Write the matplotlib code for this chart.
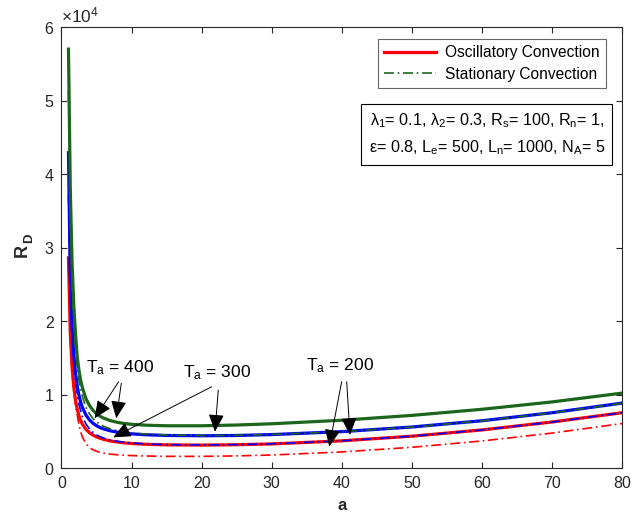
import matplotlib
matplotlib.use("Agg")
import matplotlib.pyplot as plt
from matplotlib.ticker import ScalarFormatter, MultipleLocator

plt.rcParams['font.family'] = 'Liberation Sans'
plt.rcParams['mathtext.fontset'] = 'custom'
plt.rcParams['mathtext.rm'] = 'Liberation Sans'
plt.rcParams['mathtext.it'] = 'Liberation Sans:italic'
plt.rcParams['mathtext.bf'] = 'Liberation Sans:bold'
plt.rcParams['mathtext.default'] = 'regular'

# wave number a
a = [1, 1.25, 1.5, 1.75, 2, 2.25, 2.5, 2.75, 3, 3.5, 4, 4.5, 5, 5.5, 6, 7, 8, 9, 10,
     12, 15, 20, 25, 30, 40, 50, 60, 70, 80]

# Ta = 200
osc_200 = [28600, 18500, 13900, 11050, 9250, 8000, 7100, 6450, 5950, 5250, 4800, 4480, 4230,
           4050, 3900, 3680, 3530, 3420, 3340, 3230, 3150, 3120, 3170, 3280, 3700, 4330,
           5180, 6260, 7520]
sta_200 = [28000, 18000, 13400, 10500, 8600, 7200, 5900, 4900, 4200, 3300, 2800, 2480, 2280,
           2140, 2030, 1890, 1800, 1740, 1695, 1635, 1590, 1585, 1650, 1770, 2190, 2820,
           3680, 4750, 6050]
# Ta = 300
osc_300 = [42900, 26130, 19510, 15520, 12930, 11150, 9880, 8930, 8210, 7200, 6540, 6090, 5760,
           5510, 5320, 5050, 4870, 4750, 4650, 4530, 4430, 4390, 4430, 4550, 4950, 5580,
           6430, 7520, 8830]
sta_300 = [37300, 25000, 18370, 14340, 11740, 9950, 8660, 7710, 6990, 5970, 5300, 4850, 4520,
           4270, 4080, 3810, 3630, 3500, 3410, 3280, 3180, 3140, 3180, 3290, 3700, 4330,
           5180, 6250, 7520]
# Ta = 400
osc_400 = [57000, 38440, 28360, 22280, 18330, 15100, 13280, 11900, 10880, 9430, 8500, 7850,
           7390, 7050, 6800, 6440, 6210, 6050, 5950, 5830, 5750, 5750, 5850, 6020, 6500,
           7160, 7990, 8990, 10190]
sta_400 = [51300, 34500, 25300, 19800, 16200, 13700, 11960, 10660, 9660, 8270, 7360, 6730,
           6280, 5940, 5680, 5320, 5080, 4910, 4780, 4620, 4490, 4420, 4450, 4570, 4950,
           5570, 6420, 7500, 8800]

red = (1, 0, 0)
blue = (0, 0, 1)
green = (0.11, 0.40, 0.11)
dark = (0.15, 0.15, 0.15)
dd = (6, 2.2, 1, 2.2)

fig = plt.figure(figsize=(6.41, 5.22), dpi=100)
ax = fig.add_axes([0.0959, 0.1034, 0.8744, 0.8448])

l_osc, = ax.plot(a, osc_200, color=red, lw=2.3, label='Oscillatory Convection')
ax.plot(a, sta_200, color=red, lw=1.2, dashes=dd)
ax.plot(a, osc_300, color=blue, lw=2.3)
ax.plot(a, sta_300, color=blue, lw=1.2, dashes=dd)
ax.plot(a, osc_400, color=green, lw=2.3)
l_sta, = ax.plot(a, sta_400, color=green, lw=1.2, dashes=dd, label='Stationary Convection')

ax.set_xlim(0, 80)
ax.set_ylim(0, 60000)
ax.xaxis.set_major_locator(MultipleLocator(10))
ax.yaxis.set_major_locator(MultipleLocator(10000))
fmt = ScalarFormatter(useMathText=True)
fmt.set_powerlimits((0, 0))
ax.yaxis.set_major_formatter(fmt)
ax.yaxis.get_offset_text().set_fontsize(12.5)
ax.yaxis.get_offset_text().set_color(dark)

ax.tick_params(direction='in', length=4, width=0.8, top=True, right=True,
               labelsize=11.5, colors=dark)
ax.tick_params(axis='x', pad=6)
ax.tick_params(axis='y', pad=5)
for s in ax.spines.values():
    s.set_color(dark)
    s.set_linewidth(0.8)

ax.set_xlabel('a', fontsize=12, fontweight='bold', color=dark)
ax.xaxis.set_label_coords(0.5, -0.068)
# y label R_D, bold with subscript
ax.text(-0.0705, 0.494, 'R', transform=ax.transAxes, rotation=90, ha='center', va='center',
        fontsize=13, fontweight='bold', color=dark)
ax.text(-0.0585, 0.522, 'D', transform=ax.transAxes, rotation=90, ha='center', va='center',
        fontsize=9.5, fontweight='bold', color=dark)

leg = ax.legend(handles=[l_osc, l_sta], loc='upper right', bbox_to_anchor=(0.9715, 0.9728),
                borderaxespad=0, fontsize=11.2, handlelength=3.3, handletextpad=0.6,
                labelspacing=0.42, borderpad=0.4, fancybox=False, framealpha=1)
leg.get_frame().set_edgecolor((0.4, 0.4, 0.4))
leg.get_frame().set_linewidth(0.8)

params = ('λ$_1$= 0.1, λ$_2$= 0.3, R$_s$= 100, R$_n$= 1,\n'
          'ε= 0.8, L$_e$= 500, L$_n$= 1000, N$_A$= 5')
ax.text(0.759, 0.757, params, transform=ax.transAxes, ha='center', va='center',
        fontsize=11.6, linespacing=1.65, color='k',
        bbox=dict(boxstyle='square,pad=0.45', facecolor='white', edgecolor='k', linewidth=0.8))

# Ta labels and arrows
labels = ['T$_a$ = 400', 'T$_a$ = 300', 'T$_a$ = 200']
label_pos = [(8.35, 13060), (22.27, 12310), (39.8, 13330)]
arrow_from = [(8.16, 11740), (8.54, 11520), (21.44, 11060), (22.38, 10610), (39.99, 11740), (40.71, 11740)]
arrow_to = [(4.74, 6760), (7.82, 6760), (7.39, 4180), (21.91, 4940), (38.22, 2900), (41.18, 4490)]

for txt, (x, y) in zip(labels, label_pos):
    ax.text(x, y, txt, ha='center', va='baseline', fontsize=12.5, color='k')
for p0, p1 in zip(arrow_from, arrow_to):
    ax.annotate('', xy=p1, xytext=p0,
                arrowprops=dict(arrowstyle='-|>,head_length=0.9,head_width=0.4',
                                mutation_scale=12, lw=0.7, color='k', shrinkA=0, shrinkB=0))

fig.savefig('out.png', dpi=100)
